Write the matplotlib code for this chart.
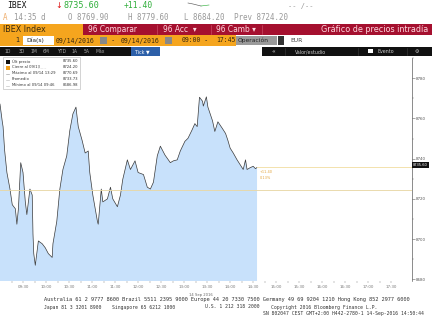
import matplotlib
matplotlib.use('Agg')
import numpy as np
from matplotlib import pyplot as plt
from matplotlib.patches import Rectangle

# intraday ticks (time, price)
times = ['09:00', '09:03', '09:04', '09:06', '09:09', '09:13', '09:16', '09:20', '09:22', '09:24',
         '09:27', '09:30', '09:33', '09:35', '09:39', '09:42', '09:43', '09:44', '09:46', '09:50',
         '09:55', '09:59', '10:03', '10:08', '10:09', '10:14', '10:18', '10:22', '10:27', '10:31',
         '10:35', '10:39', '10:42', '10:47', '10:51', '10:55', '10:57', '11:01', '11:07', '11:08',
         '11:12', '11:14', '11:20', '11:24', '11:27', '11:33', '11:37', '11:40', '11:46', '11:50',
         '11:56', '12:00', '12:07', '12:12', '12:16', '12:20', '12:25', '12:29', '12:35', '12:42',
         '12:46', '12:51', '12:55', '13:01', '13:05', '13:10', '13:14', '13:17', '13:20', '13:24',
         '13:25', '13:29', '13:31', '13:37', '13:40', '13:44', '13:50', '13:54', '13:57', '14:00',
         '14:04', '14:09', '14:13', '14:17', '14:20', '14:22', '14:26', '14:30', '14:33', '14:35']
prices = [8767.1, 8758.3, 8755.9, 8744.3, 8733.1, 8724.9, 8717.1, 8715.1, 8707.4, 8715.1,
          8738.0, 8733.1, 8718.5, 8712.2, 8724.9, 8721.9, 8702.5, 8692.8, 8687.0, 8699.1,
          8697.7, 8695.7, 8692.8, 8690.9, 8697.7, 8708.8, 8724.9, 8734.6, 8741.4, 8754.0,
          8762.2, 8765.6, 8755.9, 8749.1, 8742.8, 8743.8, 8733.1, 8721.9, 8708.8, 8707.4,
          8724.9, 8718.5, 8720.0, 8725.8, 8720.0, 8716.1, 8721.9, 8729.7, 8739.4, 8734.6,
          8738.9, 8733.1, 8732.1, 8725.8, 8724.9, 8728.3, 8741.4, 8746.2, 8741.8, 8738.0,
          8738.9, 8739.4, 8743.8, 8748.6, 8750.1, 8754.0, 8757.4, 8755.9, 8770.5, 8768.5,
          8766.1, 8770.7, 8765.6, 8758.8, 8753.5, 8758.3, 8754.9, 8752.5, 8749.1, 8745.2,
          8742.8, 8739.4, 8737.0, 8734.6, 8739.4, 8734.6, 8735.5, 8736.2, 8735.0, 8735.6]

last_price = 8735.60
prev_close = 8724.20
tick_times = ['09:30', '10:00', '10:30', '11:00', '11:30', '12:00', '12:30', '13:00', '13:30',
              '14:00', '14:30', '15:00', '15:30', '16:00', '16:30', '17:00', '17:30']
y_ticks = [8680, 8700, 8720, 8740, 8760, 8780]

legend_labels = ['Últ precio', 'Cierre al 09/13', 'Máximo al 09/14 13:29', 'Promedio',
                 'Mínimo al 09/14 09:46']
legend_values = ['8735.60', '8724.20', '8770.69', '8733.73', '8686.98']


def to_min(s):
    h, m = s.split(':')
    return (int(h) - 9) * 60 + int(m)


x = np.array([to_min(t) for t in times])
y = np.array(prices)

W, H = 432, 324
fig = plt.figure(figsize=(6, 4.5), dpi=72)
fig.patch.set_facecolor('white')

# --- chart ---
top, bot, right = 58, 281, 412
ax = fig.add_axes([0, 1 - bot / H, right / W, (bot - top) / H])
ax.set_facecolor('white')
ax.fill_between(x, y, 8600, color='#c8e1fb', lw=0)
ax.plot(x, y, color='#3a3a3a', lw=0.7)
ax.axhline(prev_close, color='#e8d7a6', lw=0.9)
ax.plot([x[-1], 540], [last_price, last_price], color='#f2dfa6', lw=0.9)
ax.text(x[-1] + 4, last_price - 1.2, '+11.40', color='#e2a33a', fontsize=3.5, va='top')
ax.text(x[-1] + 4, last_price - 4.0, '0.13%', color='#e2a33a', fontsize=3.5, va='top')

ax.set_xlim(0, 537)
ax.set_ylim(8679.2, 8787.5)
ax.set_xticks([to_min(t) for t in tick_times])
ax.set_xticklabels(tick_times)
ax.set_xticks([to_min(t) - 15 for t in tick_times], minor=True)
ax.tick_params(axis='x', which='both', length=1.5, width=0.4, colors='#777', labelsize=4, pad=2)
ax.yaxis.tick_right()
ax.set_yticks(y_ticks)
ax.set_yticks([v + 10 for v in y_ticks], minor=True)
ax.tick_params(axis='y', which='major', length=2.5, width=0.5, colors='#555', labelsize=4, pad=1.5)
ax.tick_params(axis='y', which='minor', length=1.5, width=0.4, colors='#777')
for s in ['top', 'left', 'bottom']:
    ax.spines[s].set_visible(False)
ax.spines['right'].set_color('#444')
ax.spines['right'].set_linewidth(0.6)
ax.text(1.003, (last_price - 8679.2) / (8787.5 - 8679.2), '%.2f' % last_price,
        transform=ax.transAxes, fontsize=3.6, color='white', va='center', ha='left',
        bbox=dict(boxstyle='square,pad=0.25', fc='#111', ec='none'))

# --- header / footer overlay in pixel coords ---
ov = fig.add_axes([0, 0, 1, 1], zorder=5)
ov.set_xlim(0, W)
ov.set_ylim(H, 0)
ov.axis('off')
mono = 'DejaVu Sans Mono'


def rect(x0, y0, w, h, c, **kw):
    ov.add_patch(Rectangle((x0, y0), w, h, fc=c, ec=kw.pop('ec', 'none'), lw=kw.pop('lw', 0), **kw))


# row 1
ov.text(7, 6, 'IBEX', fontsize=8, family=mono, color='#111', va='center')
ov.text(55, 6, '↓', fontsize=8, color='#d11', va='center')
ov.text(64, 6, '8735.60', fontsize=8.5, family=mono, color='#2fae3a', va='center')
ov.text(124, 6, '+11.40', fontsize=8, family=mono, color='#2fae3a', va='center')
ov.plot([188, 193, 197, 201], [3, 4, 5, 6], color='#555', lw=0.6)
ov.plot([201, 205, 209], [6, 5.5, 5], color='#2fae3a', lw=0.6)
ov.text(288, 6, '-- /--', fontsize=7, family=mono, color='#999', va='center')
# row 2
ov.text(3, 18, 'A', fontsize=7.5, family=mono, color='#f0b070', va='center')
ov.text(14, 18, '14:35 d', fontsize=7.5, family=mono, color='#999', va='center')
ov.text(68, 18, 'O 8769.90', fontsize=7.5, family=mono, color='#999', va='center')
ov.text(128, 18, 'H 8779.60', fontsize=7.5, family=mono, color='#999', va='center')
ov.text(184, 18, 'L 8684.20', fontsize=7.5, family=mono, color='#999', va='center')
ov.text(234, 18, 'Prev 8724.20', fontsize=7.5, family=mono, color='#999', va='center')
# row 3
rect(0, 24, 83, 11, '#f5a51e')
rect(83, 24, W - 83, 11, '#a5102f')
ov.text(3, 29.5, 'IBEX Index', fontsize=8, color='#3a2a10', va='center')
for xx in [157, 211, 262]:
    ov.plot([xx, xx], [25, 34], color='#d86078', lw=0.5)
ov.text(88, 29.5, '96 Comparar', fontsize=7.5, color='#ffd8e0', va='center')
ov.text(163, 29.5, '96 Acc  ▾', fontsize=7.5, color='#ffd8e0', va='center')
ov.text(216, 29.5, '96 Camb ▾', fontsize=7.5, color='#ffd8e0', va='center')
ov.text(428, 29.5, 'Gráfico de precios intradía', fontsize=8, color='#ffd8e0',
        va='center', ha='right')
# row 4
rect(0, 35, 236, 11, '#f5a51e')
rect(23, 36, 31, 9, 'white')
ov.text(15, 40.5, '1', fontsize=6.5, color='#222', va='center')
ov.text(26, 40.5, 'Día(s)', fontsize=6, color='#222', va='center')
ov.text(56, 40.5, '09/14/2016', fontsize=6.5, family=mono, color='#3a2a10', va='center')
rect(100, 37, 7, 7, '#888')
ov.text(112, 40.5, '-', fontsize=6.5, color='#222', va='center')
ov.text(121, 40.5, '09/14/2016', fontsize=6.5, family=mono, color='#3a2a10', va='center')
rect(165, 37, 7, 7, '#888')
ov.text(182, 40.5, '09:00', fontsize=6.5, family=mono, color='#3a2a10', va='center')
ov.text(205, 40.5, '-', fontsize=6.5, color='#222', va='center')
ov.text(216, 40.5, '17:45', fontsize=6.5, family=mono, color='#3a2a10', va='center')
rect(236, 36, 41, 9, '#9a9a9a')
ov.text(238, 40.5, 'Operación', fontsize=6, color='#222', va='center')
rect(278, 36, 6, 9, '#333')
ov.text(290, 40.5, 'EUR', fontsize=6, color='#444', va='center')
# row 5
rect(0, 47, 160, 9, '#111')
btns = ['1D', '3D', '1M', '6M', 'YTD', '1A', '5A', 'Máx']
bx = [5, 19, 31, 43, 57, 72, 84, 96]
for b, xx in zip(btns, bx):
    ov.text(xx, 51.5, b, fontsize=4.5, color='#aaa', va='center')
rect(131, 47, 29, 9, '#2c5fa8')
ov.text(135, 51.5, 'Tick ▼', fontsize=4.8, color='white', va='center')
rect(262, 47, W - 262, 9, '#111')
ov.text(272, 51.5, '«', fontsize=6, color='#ddd', va='center')
ov.text(295, 51.5, 'Valor/estudio', fontsize=4.8, color='#ccc', va='center')
ov.text(378, 51.5, 'Evento', fontsize=4.8, color='#ccc', va='center')
ov.text(415, 51.5, '⚙', fontsize=5, color='#ccc', va='center')
for xx in [285, 358, 407]:
    ov.plot([xx, xx], [48, 55], color='#444', lw=0.5)
ov.add_patch(Rectangle((368, 49), 5, 4, fc='white', ec='none'))

# legend box
rect(3, 57, 77, 32, 'white', ec='#aaa', lw=0.5)
mk_colors = ['#111', '#f0a020', '#999', '#bbb', '#bbb']
for i, (lab, val) in enumerate(zip(legend_labels, legend_values)):
    yy = 61.5 + i * 6
    rect(5.5, yy - 2, 4, 4, mk_colors[i]) if i < 2 else ov.plot([6, 9], [yy, yy], color=mk_colors[i], lw=0.6)
    ov.text(12, yy, lab, fontsize=3.8, color='#333', va='center')
    ov.text(78, yy, val, fontsize=3.8, color='#333', va='center', ha='right')
ov.plot([38, 46], [67.5, 67.5], color='#bbb', lw=0.5, ls=':')

# footer
ov.text(213, 295, '14 Sep 2016', fontsize=3.8, color='#666', ha='right', va='center')
ov.text(44, 300, 'Australia 61 2 9777 8600 Brazil 5511 2395 9000 Europe 44 20 7330 7500 '
        'Germany 49 69 9204 1210 Hong Kong 852 2977 6000', fontsize=5.2, family=mono,
        color='#333', va='center')
ov.text(44, 307, 'Japan 81 3 3201 8900', fontsize=4.8, family=mono, color='#333', va='center')
ov.text(112, 307, 'Singapore 65 6212 1000', fontsize=4.8, family=mono, color='#333', va='center')
ov.text(205, 307, 'U.S. 1 212 318 2000', fontsize=4.8, family=mono, color='#333', va='center')
ov.text(271, 307, 'Copyright 2016 Bloomberg Finance L.P.', fontsize=4.8, family=mono,
        color='#333', va='center')
ov.text(424, 314, 'SN 802047 CEST GMT+2:00 H442-2780-1 14-Sep-2016 14:50:44', fontsize=4.8,
        family=mono, color='#333', va='center', ha='right')

fig.savefig('out.png', dpi=72)
